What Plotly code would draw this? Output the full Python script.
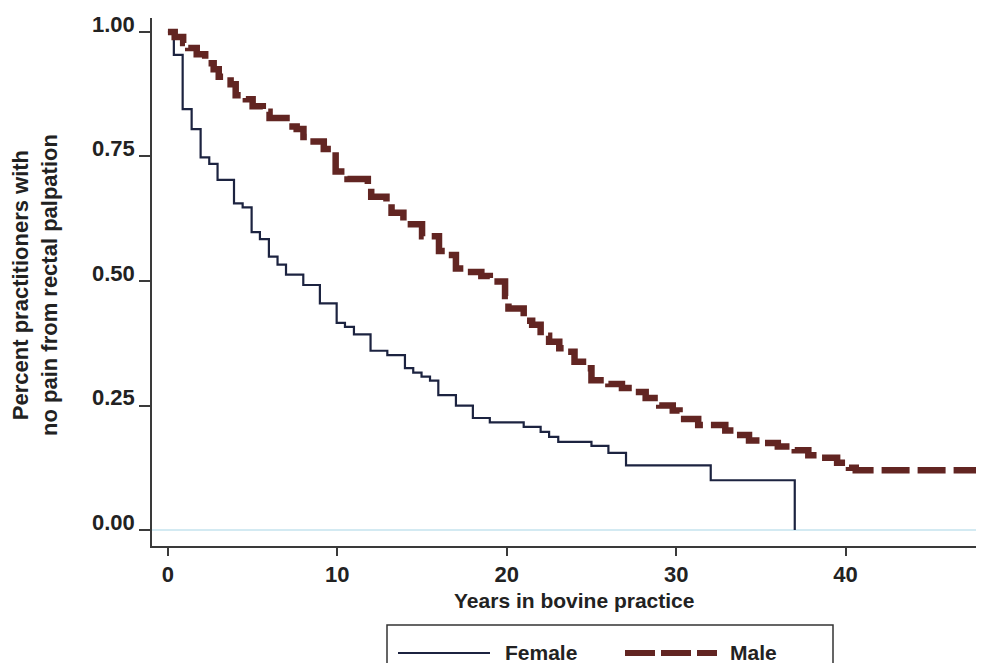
import plotly.graph_objects as go

# Kaplan-Meier style step data (years, survival proportion after the step)
female_years = [0, 0.35, 0.87, 1.4, 1.93, 2.44, 2.93, 3.9, 4.41, 4.94, 5.43, 5.96, 6.47,
                6.97, 7.99, 8.97, 9.96, 10.45, 10.98, 11.96, 12.95, 13.99, 14.48, 14.97,
                15.47, 15.96, 17.0, 18.0, 19.0, 21.0, 22.0, 22.5, 23.04, 25.0, 26.0, 27.04,
                32.04, 37.0]
female_surv = [1.0, 0.954, 0.845, 0.805, 0.748, 0.735, 0.703, 0.656, 0.648, 0.598, 0.584,
               0.549, 0.533, 0.513, 0.492, 0.455, 0.416, 0.408, 0.393, 0.360, 0.351, 0.325,
               0.316, 0.308, 0.300, 0.271, 0.250, 0.225, 0.216, 0.207, 0.197, 0.187, 0.177,
               0.169, 0.155, 0.130, 0.100, 0.0]

male_years = [0, 0.4, 0.9, 1.2, 1.7, 2.2, 2.7, 3.0, 3.7, 4.0, 4.6, 5.0, 5.6, 6.0, 7.0, 7.6,
              8.0, 8.6, 9.2, 9.9, 10.6, 11.8, 12.0, 12.9, 13.2, 13.9, 15.0, 16.0, 16.5, 17.0,
              17.6, 18.5, 19.0, 19.9, 20.1, 21.0, 21.5, 22.0, 22.5, 23.1, 23.5, 24.0, 24.5,
              25.0, 26.0, 26.8, 27.5, 28.2, 29.0, 29.8, 30.2, 31.3, 32.9, 33.5, 34.3, 35.0,
              36.0, 37.0, 37.8, 38.5, 39.5, 40.2, 40.6, 48.5]
male_surv = [1.0, 0.99, 0.978, 0.968, 0.955, 0.937, 0.925, 0.91, 0.895, 0.873, 0.865, 0.851,
             0.84, 0.827, 0.81, 0.805, 0.789, 0.78, 0.765, 0.72, 0.705, 0.69, 0.669, 0.655,
             0.637, 0.614, 0.59, 0.56, 0.552, 0.525, 0.518, 0.51, 0.499, 0.47, 0.445, 0.42,
             0.412, 0.39, 0.378, 0.365, 0.358, 0.338, 0.325, 0.301, 0.293, 0.285, 0.277,
             0.265, 0.25, 0.24, 0.223, 0.211, 0.2, 0.191, 0.18, 0.175, 0.168, 0.16, 0.15,
             0.145, 0.135, 0.125, 0.12, 0.12]

x_ticks = [0, 10, 20, 30, 40]
y_ticks = [0, 0.25, 0.5, 0.75, 1.0]
y_tick_labels = ["0.00", "0.25", "0.50", "0.75", "1.00"]

FEMALE_COLOR = "#1c2340"
MALE_COLOR = "#622522"
AXIS_COLOR = "#3a3a3a"
FONT = "Liberation Sans, Arial, sans-serif"

fig = go.Figure()
fig.add_trace(go.Scatter(x=female_years, y=female_surv, mode="lines", name="Female",
                         line=dict(color=FEMALE_COLOR, width=2.2, shape="hv"),
                         showlegend=False))
fig.add_trace(go.Scatter(x=male_years, y=male_surv, mode="lines", name="Male",
                         line=dict(color=MALE_COLOR, width=6.5, shape="hv", dash="28px,8px"),
                         showlegend=False))

# page has an 8px body margin; figure is sized so it ends at the window edge
OFF = 8
W, H = 984 - OFF, 663 - OFF
L, R, T, B = 152 - OFF, 0, 18 - OFF, 117
pw, ph = W - L - R, H - T - B


def px_x(p):
    return (p - OFF - L) / pw


def px_y(p):
    return (H - B - (p - OFF)) / ph


fig.update_layout(
    width=W, height=H,
    margin=dict(l=L, r=R, t=T, b=B),
    paper_bgcolor="white", plot_bgcolor="white",
    font=dict(family=FONT, size=21, color="#222222"),
    xaxis=dict(range=[-0.94, 48.17], tickvals=x_ticks,
               ticktext=["<b>%d</b>" % v for v in x_ticks],
               tickfont=dict(size=22),
               showgrid=False, zeroline=False, showline=True, linecolor=AXIS_COLOR,
               linewidth=1.5, ticks="outside", ticklen=8, tickwidth=1.5,
               tickcolor=AXIS_COLOR, ticklabelstandoff=0),
    yaxis=dict(range=[-0.032, 1.028], tickvals=y_ticks,
               ticktext=["<b>%s</b>" % t for t in y_tick_labels],
               tickfont=dict(size=22),
               showgrid=False, zeroline=True, zerolinecolor="#d3eaf2", zerolinewidth=1.5,
               showline=True, linecolor=AXIS_COLOR, linewidth=1.5, ticks="outside",
               ticklen=11, tickwidth=1.5, tickcolor=AXIS_COLOR, ticklabelshift=-8,
               ticklabelstandoff=0),
)

# axis titles
fig.add_annotation(text="<b>Years in bovine practice</b>", xref="paper", yref="paper",
                   x=px_x(574), y=px_y(600), showarrow=False, xanchor="center",
                   yanchor="middle", font=dict(size=21))
fig.add_annotation(text="<b>Percent practitioners with<br>no pain from rectal palpation</b>",
                   xref="paper", yref="paper", x=px_x(35), y=px_y(285), textangle=-90,
                   showarrow=False, xanchor="center", yanchor="middle",
                   font=dict(size=22))

# legend box
fig.add_shape(type="rect", xref="paper", yref="paper", x0=px_x(387), x1=px_x(833),
              y0=px_y(625), y1=px_y(680), line=dict(color="#333333", width=1.5),
              fillcolor="white", layer="above")
fig.add_shape(type="line", xref="paper", yref="paper", x0=px_x(398), x1=px_x(490),
              y0=px_y(653), y1=px_y(653), line=dict(color=FEMALE_COLOR, width=2))
fig.add_shape(type="line", xref="paper", yref="paper", x0=px_x(625), x1=px_x(717),
              y0=px_y(653), y1=px_y(653), line=dict(color=MALE_COLOR, width=6, dash="30px,6px"))
fig.add_annotation(text="<b>Female</b>", xref="paper", yref="paper", x=px_x(503),
                   y=px_y(652), showarrow=False, xanchor="left", yanchor="middle",
                   font=dict(size=21))
fig.add_annotation(text="<b>Male</b>", xref="paper", yref="paper", x=px_x(728),
                   y=px_y(652), showarrow=False, xanchor="left", yanchor="middle",
                   font=dict(size=21))

fig.write_html("out.html")
